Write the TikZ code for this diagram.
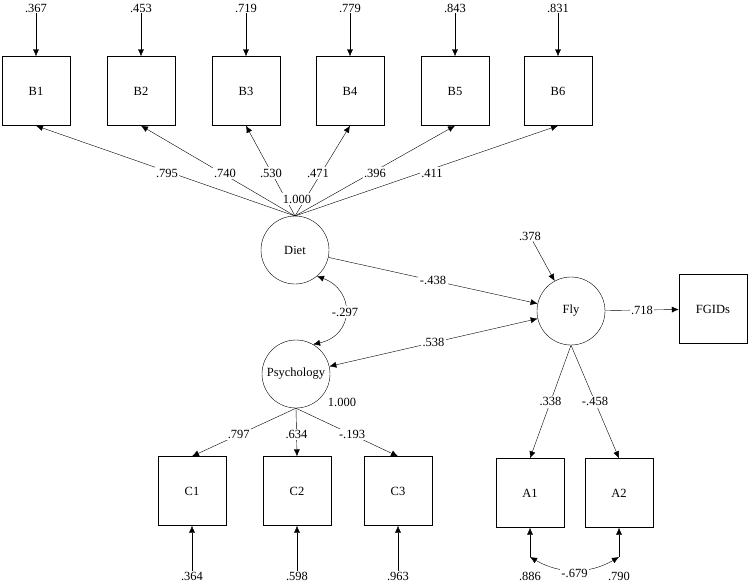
\documentclass[tikz,border=0pt]{standalone}
\usepackage{fontspec}
\setmainfont{Liberation Serif}
\usetikzlibrary{arrows.meta}
\begin{document}
\begin{tikzpicture}[x=1pt,y=-1pt,font=\fontsize{12.5}{14}\selectfont,
  >={Latex[length=7pt,width=6pt]},
  box/.style={draw,minimum width=68pt,minimum height=69pt,inner sep=0},
  lat/.style={draw,circle,minimum size=68pt,inner sep=0},
  lab/.style={inner sep=1pt},
  arr/.style={->},
  lbl/.style={fill=white,inner sep=1.5pt}]
\useasboundingbox (0,0) rectangle (749,587);
\foreach \n/\x/\v in {1/36/.367,2/141/.453,3/246/.719,4/350/.779,5/455/.843,6/558/.831}{
  \node[box] (B\n) at (\x,91) {B\n};
  \node[lab] (eB\n) at (\x,8) {\v};
  \draw[arr] (eB\n) -- (B\n);
}
\node[lat] (D) at (295,250) {Diet};
\node[lat] (P) at (296,374) {Psychology};
\node[lat] (F) at (571,311) {Fly};
\node[box] (G) at (713,309) {FGIDs};
\foreach \n/\x/\v in {1/192/.364,2/297/.598,3/398/.963}{
  \node[box] (C\n) at (\x,491) {C\n};
  \node[lab] (eC\n) at (\x,576) {\v};
  \draw[arr] (eC\n) -- (C\n);
}
\node[box] (A1) at (530,493) {A1};
\node[box] (A2) at (619,493) {A2};
\node[lab] (eA1) at (530,576) {.886};
\node[lab] (eA2) at (619,576) {.790};
\node[lab] (eF) at (530,236) {.378};
\draw[arr] (eF) -- (F);
\coordinate (Dt) at (295,216);
\foreach \n in {1,...,6}{
  \draw[<-] (B\n.south) -- (Dt);
}
\node[lbl] at (167,173) {.795};
\node[lbl] at (225,173) {.740};
\node[lbl] at (271,173) {.530};
\node[lbl] at (318,173) {.471};
\node[lbl] at (375,173) {.396};
\node[lbl] at (432,173) {.411};
\node[lbl] at (297,199) {1.000};
\node[lab] at (342,402) {1.000};
\draw[arr] (D) -- node[lbl] {-.438} (F);
\draw[<->] (P) -- node[lbl] {.538} (F);
\draw[<->] (D.-50) .. controls (355,290) and (355,335) .. node[lbl,pos=0.5] {-.297} (P.60);
\draw[arr] (F) -- node[lbl] {.718} (G);
\draw[arr] (P.south) -- node[lbl,pos=0.55] {.797} (C1.north);
\draw[arr] (P.south) -- node[lbl,pos=0.55] {.634} (C2.north);
\draw[arr] (P.south) -- node[lbl,pos=0.55] {-.193} (C3.north);
\draw[arr] (F.south) -- node[lbl] {.338} (A1.north);
\draw[arr] (F.south) -- node[lbl] {-.458} (A2.north);
\coordinate (a1) at (530,557);
\coordinate (a2) at (619,557);
\draw[arr] (a1) -- (A1);
\draw[arr] (a2) -- (A2);
\draw[<->] (a1) to[bend right=30] node[lbl,below=-3pt] {-.679} (a2);
\end{tikzpicture}
\end{document}
